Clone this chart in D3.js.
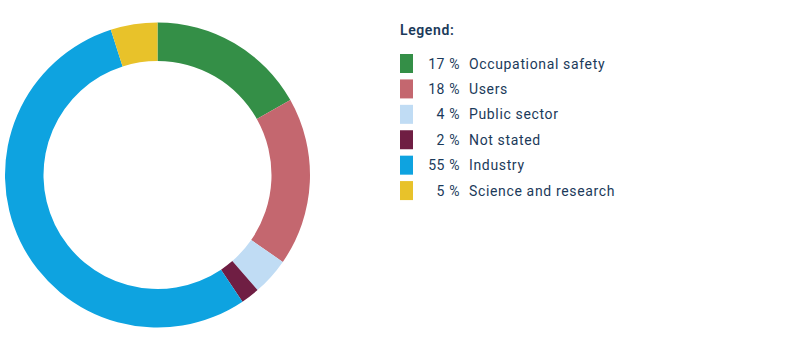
<!DOCTYPE html>
<html><head><meta charset="utf-8">
<script src="https://cdn.jsdelivr.net/npm/d3@7"></script>
<style>html,body{margin:0;padding:0;background:#fff;}svg{display:block;}</style>
</head><body>
<svg id="chart" width="801" height="351"></svg>
<script>
const categories = ["Occupational safety","Users","Public sector","Not stated","Industry","Science and research"];
const values = [17,18,4,2,55,5];
const colors = ["#348f47","#c4676f","#c0dcf4","#6f1e43","#0ea3e0","#e8c22a"];
const legendTitle = "Legend:";

const svg = d3.select("#chart");
const cx = 157.5, cy = 175, rOuter = 152.5, rInner = 114;
const pie = d3.pie().sort(null).value(d => d.v);
const arc = d3.arc().innerRadius(rInner).outerRadius(rOuter);
const data = categories.map((c,i)=>({c, v: values[i], col: colors[i]}));
svg.append("g").attr("transform",`translate(${cx},${cy})`)
  .selectAll("path").data(pie(data)).join("path")
  .attr("d", arc).attr("fill", d => d.data.col);

const textColor = "#1b3a5a";
const font = "Roboto, 'Open Sans', sans-serif";
const lg = svg.append("g");
lg.append("text").attr("x",400).attr("y",35).text(legendTitle)
  .attr("font-family",font).attr("font-size",14).attr("font-weight",600)
  .attr("letter-spacing",0.6).attr("fill",textColor);
const y = d3.scaleBand().domain(categories).range([51.5, 204]).paddingInner(0);
const rows = lg.selectAll("g.row").data(data).join("g").attr("class","row")
  .attr("transform", d => `translate(0,${y(d.c)})`);
rows.append("rect").attr("x",400).attr("y",2.5).attr("width",13).attr("height",19).attr("fill",d=>d.col);
rows.append("text").attr("x",460).attr("y",17).attr("text-anchor","end")
  .attr("font-family",font).attr("font-size",14).attr("letter-spacing",0.6).attr("fill",textColor).text(d=>d.v+" %");
rows.append("text").attr("x",469).attr("y",17)
  .attr("font-family",font).attr("font-size",14).attr("letter-spacing",0.65).attr("fill",textColor).text(d=>d.c);
</script>
</body></html>
